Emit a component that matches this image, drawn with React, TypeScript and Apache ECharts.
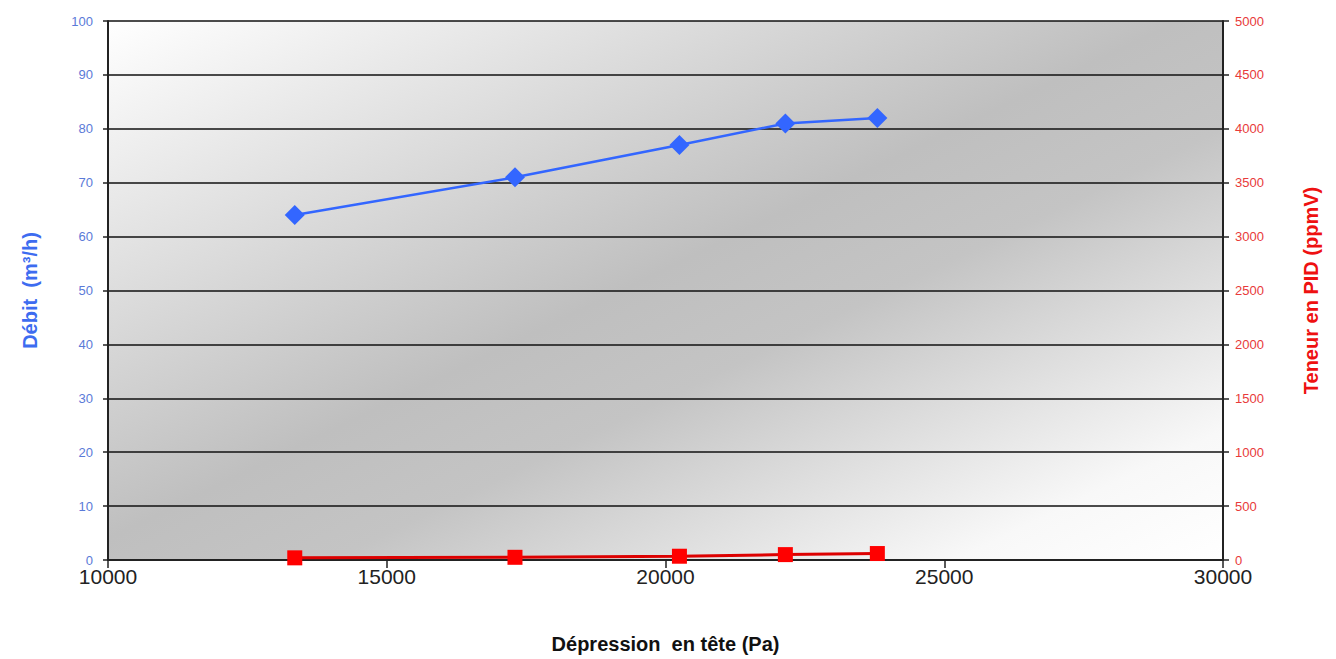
import React, { useEffect, useRef } from "react";
import * as echarts from "echarts";

const depression = [13350, 17300, 20250, 22150, 23800];
const debit = [64, 71, 77, 81, 82];
const teneur = [20, 25, 35, 50, 60];

const xTicks = { min: 10000, max: 30000, interval: 5000 };
const leftTicks = { min: 0, max: 100, interval: 10 };
const rightTicks = { min: 0, max: 5000, interval: 500 };

const FONT = "'Liberation Sans', Arial, sans-serif";
const plain = (v: number) => String(v);

export default function App() {
  const ref = useRef<HTMLDivElement>(null);
  useEffect(() => {
    if (!ref.current) return;
    const chart = echarts.init(ref.current, null, { renderer: "svg" });
    chart.setOption({
      animation: false,
      textStyle: { fontFamily: FONT },
      grid: {
        left: 108,
        right: 113,
        top: 21,
        bottom: 95,
        show: true,
        borderWidth: 0,
        backgroundColor: {
          type: "linear",
          x: 0,
          y: 0,
          x2: 1,
          y2: 1,
          colorStops: [
            { offset: 0, color: "#ffffff" },
            { offset: 0.48, color: "#bfbfbf" },
            { offset: 0.6, color: "#c4c4c4" },
            { offset: 0.88, color: "#f8f8f8" },
            { offset: 1, color: "#ffffff" },
          ],
        },
      },
      xAxis: {
        type: "value",
        min: xTicks.min,
        max: xTicks.max,
        interval: xTicks.interval,
        name: "Dépression  en tête (Pa)",
        nameLocation: "middle",
        nameGap: 74,
        nameTextStyle: { fontSize: 20, fontWeight: "bold", color: "#111", fontFamily: FONT },
        axisLine: { lineStyle: { color: "#222", width: 2 } },
        axisTick: { show: true, length: 8, lineStyle: { color: "#222", width: 1.5 } },
        axisLabel: { fontSize: 21, color: "#222", margin: 6, fontFamily: FONT, formatter: plain },
        splitLine: { show: false },
      },
      yAxis: [
        {
          type: "value",
          position: "left",
          min: leftTicks.min,
          max: leftTicks.max,
          interval: leftTicks.interval,
          name: "Débit  (m³/h)",
          nameLocation: "middle",
          nameGap: 68,
          nameTextStyle: { fontSize: 20, fontWeight: "bold", color: "#3d6cf0", fontFamily: FONT },
          axisLine: { show: true, lineStyle: { color: "#222", width: 2 } },
          axisTick: { show: true, length: 5, lineStyle: { color: "#222", width: 1.5 } },
          axisLabel: { fontSize: 13, color: "#5a7ad8", margin: 15, fontFamily: FONT, formatter: plain },
          splitLine: { show: true, lineStyle: { color: "#111", width: 1.5 } },
        },
        {
          type: "value",
          position: "right",
          min: rightTicks.min,
          max: rightTicks.max,
          interval: rightTicks.interval,
          name: "Teneur en PID (ppmV)",
          nameLocation: "middle",
          nameGap: 78,
          nameRotate: 90,
          nameTextStyle: { fontSize: 20, fontWeight: "bold", color: "#ee1111", fontFamily: FONT },
          axisLine: { show: true, lineStyle: { color: "#222", width: 2 } },
          axisTick: { show: true, length: 6, lineStyle: { color: "#222", width: 1.5 } },
          axisLabel: { fontSize: 13, color: "#e83a3a", margin: 12, fontFamily: FONT, formatter: plain },
          splitLine: { show: false },
        },
      ],
      series: [
        {
          type: "line",
          yAxisIndex: 0,
          data: depression.map((x, i) => [x, debit[i]]),
          symbol: "diamond",
          symbolSize: 20,
          itemStyle: { color: "#3366ff" },
          lineStyle: { color: "#3366ff", width: 2.5 },
          z: 3,
        },
        {
          type: "line",
          yAxisIndex: 1,
          data: depression.map((x, i) => [x, teneur[i]]),
          symbol: "rect",
          symbolSize: 15,
          itemStyle: { color: "#ff0000" },
          lineStyle: { color: "#dd0000", width: 3 },
          z: 4,
        },
      ],
    });
    return () => chart.dispose();
  }, []);
  return (
    <div
      ref={ref}
      style={{ position: "absolute", left: 0, top: 0, width: 1336, height: 659, background: "#fff" }}
    />
  );
}
